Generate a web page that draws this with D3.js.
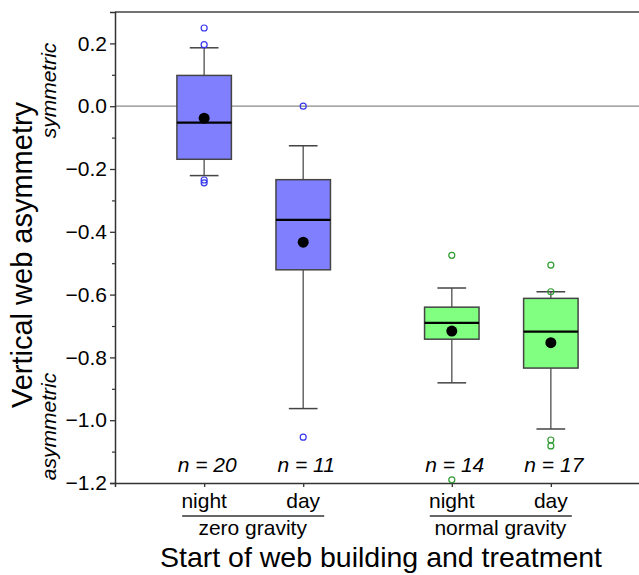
<!DOCTYPE html>
<html><head><meta charset="utf-8">
<script src="https://cdn.jsdelivr.net/npm/d3@7/dist/d3.min.js"></script>
<style>body{margin:0;background:#fff}svg{display:block;font-family:"Liberation Sans",Arial,sans-serif}</style>
</head><body>
<svg id="c" width="639" height="575"></svg>
<script>
// ---- data ----
const conditions = ["night", "day", "night", "day"];
const gravity = ["zero gravity", "zero gravity", "normal gravity", "normal gravity"];
const positions = [1, 2, 3.5, 4.5];
const q1 = [-0.169, -0.521, -0.742, -0.834];
const medians = [-0.052, -0.362, -0.690, -0.718];
const q3 = [0.098, -0.234, -0.640, -0.612];
const whiskerLow = [-0.221, -0.963, -0.881, -1.028];
const whiskerHigh = [0.186, -0.126, -0.579, -0.591];
const means = [-0.038, -0.433, -0.716, -0.753];
const outliers = [[0.249, 0.196, -0.235, -0.244], [0.0, -1.054], [-0.475, -1.19], [-0.506, -0.591, -1.063, -1.082]];
const nLabels = ["n = 20", "n = 11", "n = 14", "n = 17"];
const groupLabels = ["zero gravity", "normal gravity"];
const groupSpans = [[1, 2], [3.5, 4.5]];
const yMajorTicks = [-1.2, -1.0, -0.8, -0.6, -0.4, -0.2, 0.0, 0.2];
const yMinorTicks = [-1.1, -0.9, -0.7, -0.5, -0.3, -0.1, 0.1];
const fills = ["#8080ff", "#8080ff", "#80ff80", "#80ff80"];
const outlierColors = ["#3636ee", "#3636ee", "#2f9a2f", "#2f9a2f"];

// ---- scales ----
const svg = d3.select("#c");
const x = d3.scaleLinear().domain([0.1, 5.4]).range([115, 640]);
const y = d3.scaleLinear().domain([-1.2, 0.3]).range([483, 12]);
const boxW = 0.55, capW = 0.29;
const axisColor = "#333";

// zero reference line
svg.append("line").attr("x1", x(0.1)).attr("x2", x(5.4)).attr("y1", y(0)).attr("y2", y(0))
  .attr("stroke", "#8a8a8a").attr("stroke-width", 1.2);

// top frame line
svg.append("line").attr("x1", x(0.1)).attr("x2", x(5.4)).attr("y1", y(0.3)).attr("y2", y(0.3))
  .attr("stroke", "#444").attr("stroke-width", 1.5);

// y axis
const yAx = svg.append("g").attr("transform", `translate(${x(0.1)},0)`)
  .call(d3.axisLeft(y).tickValues(yMajorTicks).tickSize(5).tickPadding(3).tickFormat(d3.format(".1f")));
yAx.select(".domain").attr("stroke", axisColor).attr("stroke-width", 1.5);
yAx.selectAll(".tick line").attr("stroke", axisColor).attr("stroke-width", 1.3);
yAx.selectAll(".tick text").attr("font-size", 21).attr("fill", "#000")
  .attr("font-family", "'Liberation Sans',Arial,sans-serif");
const yMin = svg.append("g").attr("transform", `translate(${x(0.1)},0)`)
  .call(d3.axisLeft(y).tickValues(yMinorTicks).tickSize(3).tickFormat(""));
yMin.select(".domain").remove();
yMin.selectAll(".tick line").attr("stroke", axisColor).attr("stroke-width", 1.2);

// x axis
const xAx = svg.append("g").attr("transform", `translate(0,${y(-1.2)})`)
  .call(d3.axisBottom(x).tickValues(positions).tickSize(4).tickFormat(""));
xAx.select(".domain").attr("stroke", axisColor).attr("stroke-width", 1.5);
xAx.selectAll(".tick line").attr("stroke", axisColor).attr("stroke-width", 1.3);

// boxes
positions.forEach((p, i) => {
  const g = svg.append("g");
  const cx = x(p);
  const halfBox = (x(p + boxW / 2) - x(p - boxW / 2)) / 2;
  const halfCap = (x(p + capW / 2) - x(p - capW / 2)) / 2;
  // whiskers
  g.append("line").attr("x1", cx).attr("x2", cx).attr("y1", y(q3[i])).attr("y2", y(whiskerHigh[i]))
    .attr("stroke", "#666").attr("stroke-width", 1.5);
  g.append("line").attr("x1", cx).attr("x2", cx).attr("y1", y(q1[i])).attr("y2", y(whiskerLow[i]))
    .attr("stroke", "#666").attr("stroke-width", 1.5);
  [whiskerHigh[i], whiskerLow[i]].forEach(v => {
    g.append("line").attr("x1", cx - halfCap).attr("x2", cx + halfCap).attr("y1", y(v)).attr("y2", y(v))
      .attr("stroke", "#444").attr("stroke-width", 1.5);
  });
  // box
  g.append("rect").attr("x", cx - halfBox).attr("width", 2 * halfBox)
    .attr("y", y(q3[i])).attr("height", y(q1[i]) - y(q3[i]))
    .attr("fill", fills[i]).attr("stroke", "#444").attr("stroke-width", 1.5);
  // median
  g.append("line").attr("x1", cx - halfBox).attr("x2", cx + halfBox).attr("y1", y(medians[i])).attr("y2", y(medians[i]))
    .attr("stroke", "#000").attr("stroke-width", 2.2);
  // mean
  g.append("circle").attr("cx", cx).attr("cy", y(means[i])).attr("r", 5.5).attr("fill", "#000");
  // outliers
  outliers[i].forEach(v => {
    g.append("circle").attr("cx", cx).attr("cy", y(v)).attr("r", 3).attr("fill", "none")
      .attr("stroke", outlierColors[i]).attr("stroke-width", 1.2);
  });
  // n label
  svg.append("text").attr("x", cx + 3).attr("y", 472).attr("text-anchor", "middle")
    .attr("font-size", 21).attr("font-style", "italic").text(nLabels[i]);
  // condition label
  svg.append("text").attr("x", cx).attr("y", 508).attr("text-anchor", "middle")
    .attr("font-size", 21).text(conditions[i]);
});

// group labels with underline
groupSpans.forEach((s, j) => {
  svg.append("line").attr("x1", x(s[0]) - 22).attr("x2", x(s[1]) + 21).attr("y1", 516).attr("y2", 516)
    .attr("stroke", "#333").attr("stroke-width", 1.6);
  svg.append("text").attr("x", (x(s[0]) + x(s[1])) / 2 - 1).attr("y", 535).attr("text-anchor", "middle")
    .attr("font-size", 21).text(groupLabels[j]);
});

// axis titles
svg.append("text").attr("x", 381).attr("y", 567).attr("text-anchor", "middle")
  .attr("font-size", 28.5).text("Start of web building and treatment");
svg.append("text").attr("transform", "translate(32,255) rotate(-90)").attr("text-anchor", "middle")
  .attr("font-size", 29).text("Vertical web asymmetry");
svg.append("text").attr("transform", `translate(56,${y(0.05)}) rotate(-90)`).attr("text-anchor", "middle")
  .attr("font-size", 21).attr("font-style", "italic").text("symmetric");
svg.append("text").attr("transform", `translate(56,${y(-1.02)}) rotate(-90)`).attr("text-anchor", "middle")
  .attr("font-size", 21).attr("font-style", "italic").text("asymmetric");
</script>
</body></html>
